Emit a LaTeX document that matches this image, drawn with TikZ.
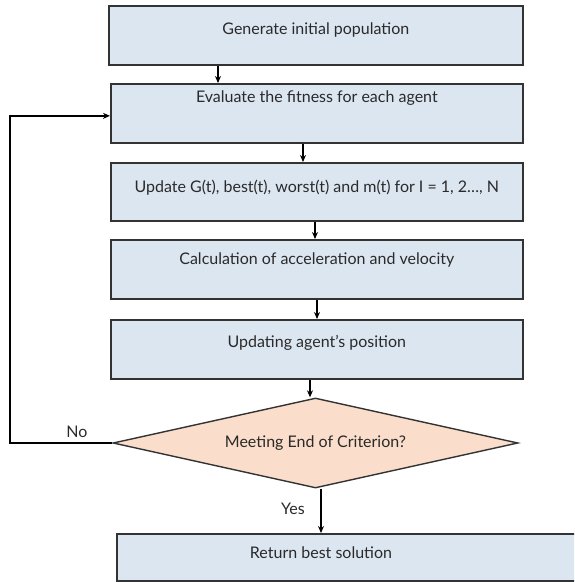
\documentclass[tikz,border=0pt]{standalone}
\usepackage{fontspec}
\setmainfont{Lato}
\usetikzlibrary{shapes.geometric,arrows.meta}
\definecolor{boxfill}{HTML}{DCE6F1}
\definecolor{diafill}{HTML}{FADDCA}
\definecolor{border}{HTML}{333333}
\definecolor{txt}{HTML}{2A2A2A}
\tikzset{
  box/.style={draw=border, fill=boxfill, line width=1.7pt, inner sep=0pt, anchor=north west, text=txt, font=\fontsize{16}{19}\selectfont},
  dia/.style={diamond, draw=border, fill=diafill, line width=1.4pt, inner sep=0pt, shape aspect=4.5, minimum width=405pt, minimum height=90pt, text=txt, font=\fontsize{16}{19}\selectfont},
  arr/.style={draw=black, line width=1.4pt, -{Stealth[length=7pt,width=6pt]}},
  lbl/.style={font=\fontsize{16}{19}\selectfont, inner sep=0pt, text=txt}
}
\begin{document}
\begin{tikzpicture}[x=1pt,y=-1pt]
\useasboundingbox (0,0) rectangle (574,582);
\clip (0,0) rectangle (574,582);
\node[box, minimum width=414pt, text height=29pt, text depth=30pt] (b1) at (108,5) {Generate initial population};
\node[box, minimum width=412pt, text height=19pt, text depth=40pt] (b2) at (110,83) {Evaluate the fitness for each agent};
\node[box, minimum width=412pt, text height=30pt, text depth=28pt] (b3) at (110,162) {Update G(t), best(t), worst(t) and m(t) for I = 1, 2…, N};
\node[box, minimum width=412pt, text height=25pt, text depth=34pt] (b4) at (110,239) {Calculation of acceleration and velocity};
\node[box, minimum width=412pt, text height=28pt, text depth=31pt] (b5) at (110,319) {Updating agent’s position};
\node[dia] (d) at (315.5,443) {Meeting End of Criterion?};
\node[box, minimum width=490pt, minimum height=47pt] (b6) at (116,533) {};
\node[lbl] (b6t) at (321,553) {Return best solution};
\node[lbl] (no) at (77,432) {No};
\node[lbl] (yes) at (293,509) {Yes};
\path (218,0) coordinate (x1) (303,0) coordinate (x2) (315,0) coordinate (x3)
      (317,0) coordinate (x4) (310,0) coordinate (x5) (321,0) coordinate (x6)
      (10,443) coordinate (lp);
\draw[arr] (b1.south -| x1) -- (b2.north -| x1);
\draw[arr] (b2.south -| x2) -- (b3.north -| x2);
\draw[arr] (b3.south -| x3) -- (b4.north -| x3);
\draw[arr] (b4.south -| x4) -- (b5.north -| x4);
\draw[arr] (b5.south -| x5) -- (d.north -| x5);
\draw[arr] (d.south -| x6) -- (b6.north -| x6);
\draw[arr] (d.west) -- (lp) |- ([yshift=-2.5pt]b2.west);
\end{tikzpicture}
\end{document}
